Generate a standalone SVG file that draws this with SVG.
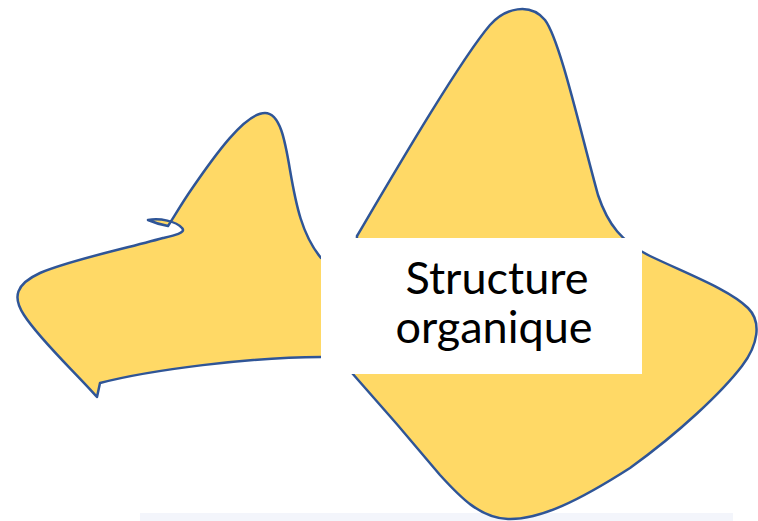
<svg xmlns="http://www.w3.org/2000/svg" width="758" height="521" viewBox="0 0 758 521">
  <style>
    .blob { fill: #FFD966; stroke: #2F5597; stroke-width: 2.5; stroke-linejoin: round; }
    .label { font-family: Lato, "Open Sans", sans-serif; font-size: 45px; fill: #000000; text-anchor: middle; }
  </style>
  <rect x="0" y="0" width="758" height="521" fill="#FFFFFF"/>
  <rect x="140" y="513" width="593" height="8" fill="#F3F5FB"/>
  <g id="left-shape">
    <path class="blob" d="M 97,397 C 75,372 40,340 24,315 C 12,297 16,284 40,273 C 70,260 120,250 163,238 C 172,236 187,233 182,228 C 176,221 160,218 148,220 C 155,223 162,225 168,226 C 175,215 184,200 191,190 C 215,155 245,113 265,113 C 280,113 285,140 290,170 C 296,205 302,235 321,258 L 335,260 L 335,357 L 321,357 C 250,357 150,370 100,383 Z"/>
  </g>
  <g id="right-shape">
    <path class="blob" d="M 357,236 C 390,180 460,60 490,25 C 505,8 530,2 545,20 C 560,40 580,130 598,195 C 608,225 622,242 650,256 C 690,275 730,290 748,308 C 762,322 758,345 742,366 C 722,392 680,432 630,468 C 580,500 540,520 508,519 C 480,518 460,497 440,475 C 415,445 385,410 352,373 Z"/>
  </g>
  <g id="label-box">
    <rect x="321" y="238" width="321" height="136" fill="#FFFFFF"/>
    <text class="label" x="497" y="294">Structure</text>
    <text class="label" x="494" y="343">organique</text>
  </g>
  <g id="connectors"></g>
</svg>
